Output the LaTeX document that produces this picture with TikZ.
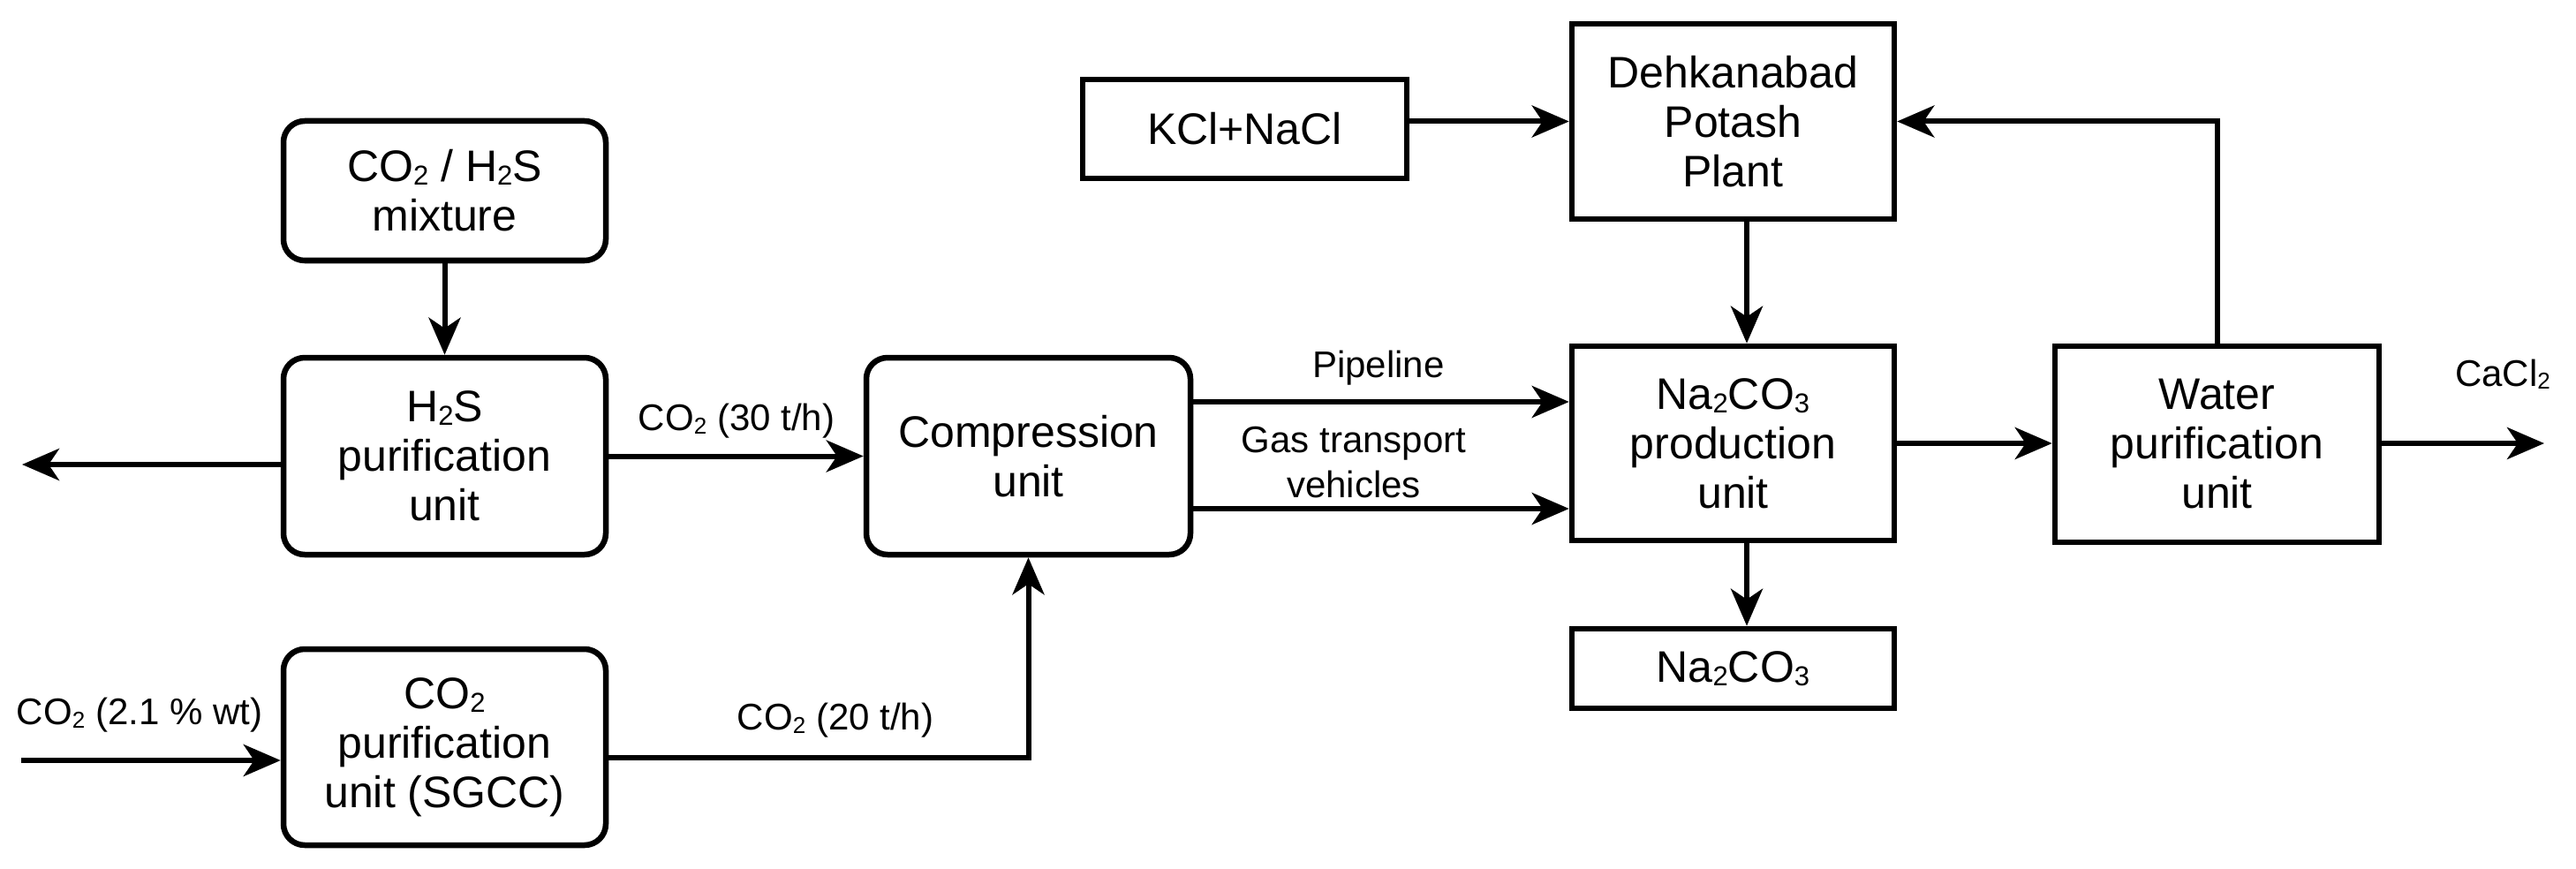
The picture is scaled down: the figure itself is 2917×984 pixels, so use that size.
\documentclass[tikz,border=0pt]{standalone}
\usepackage{fontspec}
\setmainfont{Liberation Sans}
\usetikzlibrary{arrows.meta}
\newcommand{\sbs}[1]{\raisebox{-0.15ex}{\scalebox{0.62}{#1}}}
\begin{document}
\begin{tikzpicture}[x=1pt,y=-1pt,
  rbox/.style={draw, line width=6.5pt, rounded corners=24pt, align=center, inner sep=0pt, font=\fontsize{50}{56}\selectfont},
  sbox/.style={draw, line width=6.5pt, align=center, inner sep=0pt, font=\fontsize{50}{56}\selectfont},
  lbl/.style={font=\fontsize{42}{51}\selectfont, align=center, inner sep=0pt},
  flow/.style={line width=6pt, -{Stealth[length=42pt,width=36pt,inset=12pt]}}]
\useasboundingbox (0,0) rectangle (2917,984);

% nodes
\node[rbox, minimum width=365pt, minimum height=158pt] (mix) at (503.5,216) {CO\sbs{2} / H\sbs{2}S\\mixture};
\node[rbox, minimum width=365pt, minimum height=223pt] (h2s) at (503.5,516.5) {H\sbs{2}S\\purification\\unit};
\node[rbox, minimum width=365pt, minimum height=222pt] (co2p) at (503.5,846) {CO\sbs{2}\\purification\\unit (SGCC)};
\node[rbox, minimum width=367pt, minimum height=223pt] (comp) at (1164.5,516.5) {Compression\\unit};
\node[sbox, minimum width=367pt, minimum height=112pt] (kcl) at (1409.5,146) {KCl+NaCl};
\node[sbox, minimum width=365pt, minimum height=221pt] (dehk) at (1962.5,137.5) {Dehkanabad\\Potash\\Plant};
\node[sbox, minimum width=365pt, minimum height=220pt] (naprod) at (1962.5,502) {Na\sbs{2}CO\sbs{3}\\production\\unit};
\node[sbox, minimum width=365pt, minimum height=90pt] (na) at (1962.5,757) {Na\sbs{2}CO\sbs{3}};
\node[sbox, minimum width=367pt, minimum height=222pt] (water) at (2510.5,503) {Water\\purification\\unit};

% labels
\node[lbl] (l30) at (834,477) {CO\sbs{2} (30 t/h)};
\node[lbl] (l21) at (158,810) {CO\sbs{2} (2.1 \% wt)};
\node[lbl] (l20) at (946,816) {CO\sbs{2} (20 t/h)};
\node[lbl] (lpipe) at (1561,417) {Pipeline};
\node[lbl] (lgas) at (1533,524) {Gas transport\\vehicles};
\node[lbl] (lcacl) at (2834,424) {CaCl\sbs{2}};

% coordinates
\coordinate (leftout) at (25,526);
\coordinate (co2in) at (24,861);
\coordinate (c20) at (0,858);
\coordinate (pipe) at (0,455);
\coordinate (gas) at (0,576);
\coordinate (xa) at (1978,0);
\coordinate (out) at (2881,502);

% connectors
\draw[flow] (mix) -- (h2s);
\draw[flow] (h2s.west |- leftout) -- (leftout);
\draw[flow] (h2s) -- (comp);
\draw[flow] (co2in) -- (co2in -| co2p.west);
\draw[flow] (co2p.east |- c20) -| (comp.south);
\draw[flow] (comp.east |- pipe) -- (naprod.west |- pipe);
\draw[flow] (comp.east |- gas) -- (naprod.west |- gas);
\draw[flow] (kcl.east |- dehk.west) -- (dehk.west);
\draw[flow] (dehk.south -| xa) -- (naprod.north -| xa);
\draw[flow] (naprod.south -| xa) -- (na.north -| xa);
\draw[flow] (naprod.east) -- (water.west |- naprod.east);
\draw[flow] (water.east |- out) -- (out);
\draw[flow] (water.north) |- (dehk.east);
\end{tikzpicture}
\end{document}
